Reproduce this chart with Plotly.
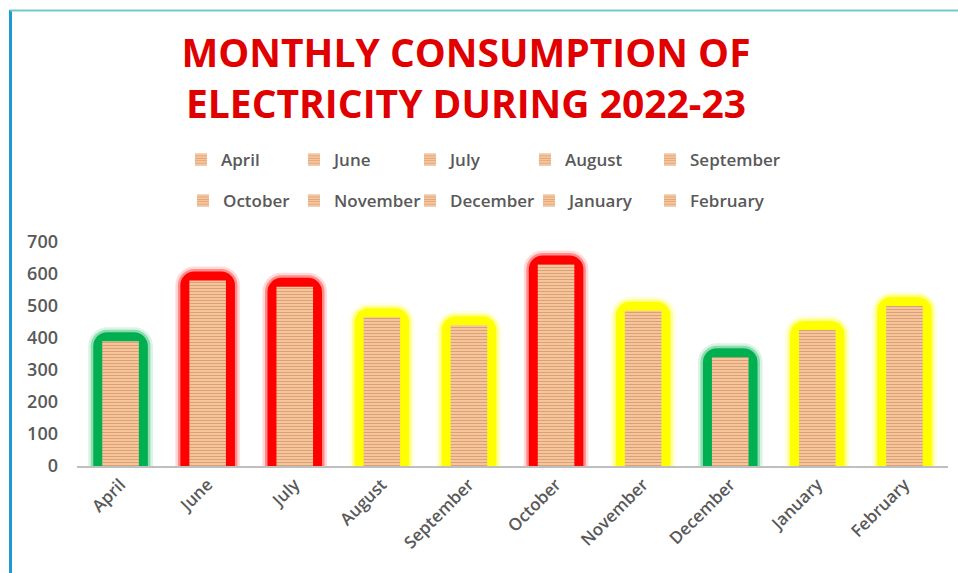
import plotly.graph_objects as go

# ---- data ----
months = ["April", "June", "July", "August", "September",
          "October", "November", "December", "January", "February"]
consumption = [390, 580, 560, 465, 440, 630, 485, 340, 425, 500]
low_limit = 400     # below -> green glow
high_limit = 550    # at/above -> red glow, otherwise yellow

W, H = 958, 573
ML, MR, MT, MB = 77, 10, 242, 107

# legend entry text positions (px) as laid out in the reference
legend_text_x = [221, 334, 450, 565, 690, 223, 334, 450, 569, 690]
legend_row_y = [160, 160, 160, 160, 160, 201, 201, 201, 201, 201]


def glow_rgb(v):
    if v < low_limit:
        return (0, 176, 80)
    if v >= high_limit:
        return (255, 0, 0)
    return (255, 255, 0)


fig = go.Figure()

halo_layers = [(28, 0.15), (23, 0.35), (18, 1.0)]
for m, v in zip(months, consumption):
    r, g, b = glow_rgb(v)
    for w, a in halo_layers:
        fig.add_bar(
            x=[m], y=[v], width=0.42,
            marker=dict(color="rgba(0,0,0,0)",
                        line=dict(color=f"rgba({r},{g},{b},{a})", width=w),
                        cornerradius=5),
            showlegend=False, hoverinfo="skip",
        )

legend_layouts = {}
for i, (m, v) in enumerate(zip(months, consumption)):
    key = "legend" if i == 0 else f"legend{i + 1}"
    fig.add_bar(
        x=[m], y=[v], width=0.42, name=m,
        marker=dict(color="#F7C59C", line=dict(width=0),
                    pattern=dict(shape="-", fgcolor="#C07D50", size=3,
                                 solidity=0.35, fillmode="overlay")),
        legend=key,
    )
    legend_layouts[key] = dict(
        orientation="h", xref="container", yref="container",
        x=(legend_text_x[i] - 40) / W, y=1 - legend_row_y[i] / H,
        xanchor="left", yanchor="middle", itemwidth=30,
        font=dict(family="Open Sans", size=17, color="#595959", weight=600),
        bgcolor="rgba(0,0,0,0)",
    )


def px_x(p):
    return (p - ML) / (W - ML - MR)


def px_y(p):
    return (H - MB - p) / (H - MT - MB)


shapes = [
    dict(type="line", xref="paper", yref="paper",
         x0=px_x(10.5), x1=px_x(10.5), y0=px_y(10), y1=px_y(573),
         line=dict(color="#1E9AD3", width=3)),
    dict(type="line", xref="paper", yref="paper",
         x0=px_x(10), x1=px_x(958), y0=px_y(10.5), y1=px_y(10.5),
         line=dict(color="#74C7CB", width=2)),
]

fig.update_layout(
    width=W, height=H,
    margin=dict(l=ML, r=MR, t=MT, b=MB),
    paper_bgcolor="white", plot_bgcolor="white",
    barmode="overlay",
    title=dict(
        text="MONTHLY CONSUMPTION OF<br>ELECTRICITY DURING 2022-23",
        font=dict(family="Open Sans", size=39, color="#E00000", weight=700),
        x=466 / W, xanchor="center", xref="container",
        y=1 - 67 / H, yanchor="top", yref="container",
    ),
    xaxis=dict(
        categoryorder="array", categoryarray=months,
        tickangle=-45, showgrid=False, ticks="",
        showline=True, linecolor="#BFBFBF", linewidth=2,
        tickfont=dict(family="Open Sans", size=17, color="#595959", weight=600),
    ),
    yaxis=dict(
        range=[0, 700], dtick=100, showgrid=False, zeroline=False,
        showline=False, ticks="", ticklabelstandoff=18,
        tickfont=dict(family="Open Sans", size=18, color="#595959", weight=600),
    ),
    shapes=shapes,
    **legend_layouts,
)

fig.write_html("out.html", config={"displayModeBar": False},
               post_script="document.body.style.margin='0';document.body.style.overflow='hidden';")
